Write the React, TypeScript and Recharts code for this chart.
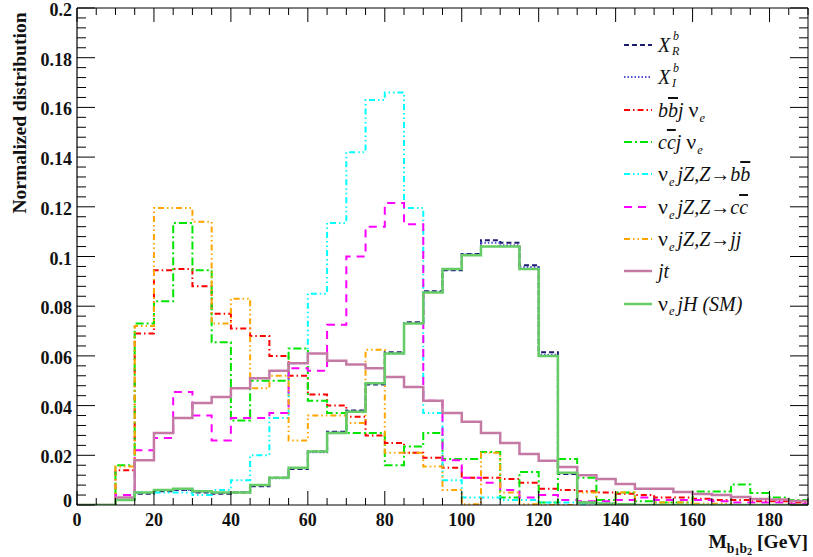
import React from 'react';
import { ComposedChart, Line, XAxis, YAxis } from 'recharts';

// bin edges in GeV (5 GeV bins)
const binEdges = [
  0, 5, 10, 15, 20, 25, 30, 35, 40, 45, 50, 55, 60, 65, 70, 75, 80, 85, 90, 95,
  100, 105, 110, 115, 120, 125, 130, 135, 140, 145, 150, 155, 160, 165, 170, 175, 180, 185, 190,
];

// one value per bin (38 bins)
const xRb = [0, 0, 0.002, 0.0045, 0.0055, 0.006, 0.005, 0.0045, 0.005, 0.0075, 0.011, 0.0145, 0.0215, 0.0295, 0.038, 0.0485, 0.0615, 0.0735, 0.086, 0.0945, 0.101, 0.1065, 0.1055, 0.0965, 0.0615, 0.0125, 0.001, 0.0005, 0.0003, 0, 0, 0, 0, 0, 0, 0, 0, 0];
const xIb = [0, 0, 0.002, 0.0048, 0.006, 0.006, 0.0052, 0.0048, 0.0052, 0.0078, 0.0108, 0.0148, 0.0212, 0.0292, 0.0378, 0.0488, 0.061, 0.0732, 0.0858, 0.0948, 0.1008, 0.1055, 0.1045, 0.0958, 0.0605, 0.0128, 0.001, 0.0005, 0.0003, 0, 0, 0, 0, 0, 0, 0, 0, 0];
const bbjv = [0, 0, 0.014, 0.069, 0.0945, 0.095, 0.088, 0.077, 0.071, 0.068, 0.06, 0.052, 0.0445, 0.04, 0.0355, 0.028, 0.025, 0.021, 0.019, 0.015, 0.011, 0.011, 0.0105, 0.009, 0.0065, 0.006, 0.0055, 0.005, 0.0045, 0.004, 0.003, 0.003, 0.0025, 0.002, 0.002, 0.0015, 0.0015, 0.001];
const ccjv = [0, 0, 0.016, 0.073, 0.082, 0.1135, 0.0945, 0.0655, 0.034, 0.05, 0.05, 0.063, 0.042, 0.037, 0.029, 0.029, 0.016, 0.0235, 0.029, 0.0185, 0.0185, 0.0213, 0.003, 0.0133, 0.001, 0.0185, 0.011, 0.002, 0.005, 0.0015, 0.001, 0.001, 0.0054, 0.0054, 0.0082, 0.0048, 0.003, 0.002];
const zbb = [0, 0, 0.002, 0.005, 0.005, 0.005, 0.004, 0.006, 0.01, 0.02, 0.035, 0.057, 0.085, 0.1135, 0.142, 0.163, 0.166, 0.1195, 0.037, 0.01, 0.003, 0.003, 0.002, 0.002, 0.001, 0.001, 0.0005, 0.0005, 0, 0, 0, 0, 0, 0, 0, 0, 0, 0];
const zcc = [0, 0, 0.004, 0.022, 0.027, 0.0455, 0.036, 0.026, 0.035, 0.035, 0.037, 0.055, 0.054, 0.0725, 0.1, 0.112, 0.1215, 0.113, 0.042, 0.018, 0.011, 0.009, 0.006, 0.003, 0.004, 0.002, 0.0015, 0.0015, 0.002, 0.003, 0.002, 0.002, 0.002, 0.0015, 0.001, 0.001, 0.001, 0.0005];
const zjj = [0, 0, 0.0155, 0.072, 0.1195, 0.1195, 0.114, 0.073, 0.083, 0.047, 0.052, 0.026, 0.036, 0.036, 0.033, 0.0625, 0.021, 0.021, 0.0155, 0.006, 0.0003, 0.021, 0.005, 0.0003, 0, 0, 0.005, 0, 0.005, 0, 0.001, 0.001, 0.0005, 0.0005, 0, 0, 0, 0];
const jt = [0, 0, 0.003, 0.018, 0.029, 0.035, 0.041, 0.0435, 0.047, 0.051, 0.054, 0.057, 0.061, 0.058, 0.0565, 0.055, 0.0515, 0.0475, 0.042, 0.037, 0.0335, 0.029, 0.025, 0.0205, 0.0178, 0.0153, 0.012, 0.0105, 0.0085, 0.0065, 0.0065, 0.0052, 0.0044, 0.004, 0.0032, 0.0024, 0.0022, 0.0016];
const smH = [0, 0, 0.002, 0.005, 0.006, 0.0065, 0.0055, 0.005, 0.005, 0.008, 0.011, 0.015, 0.0215, 0.029, 0.0375, 0.049, 0.061, 0.073, 0.0855, 0.095, 0.1005, 0.104, 0.104, 0.095, 0.06, 0.013, 0.001, 0.0005, 0.0003, 0, 0, 0, 0, 0, 0, 0, 0, 0];

const xMajorTicks = [0, 20, 40, 60, 80, 100, 120, 140, 160, 180];
const yMajorTicks = [0, 0.02, 0.04, 0.06, 0.08, 0.1, 0.12, 0.14, 0.16, 0.18, 0.2];

const series = [
  { key: 'xR', values: xRb, color: '#1c1c6e', dash: '5 3', width: 2 },
  { key: 'xI', values: xIb, color: '#4f4fd0', dash: '1.5 2', width: 2 },
  { key: 'bbjv', values: bbjv, color: '#ff0000', dash: '6 3 1.5 3', width: 2 },
  { key: 'ccjv', values: ccjv, color: '#00e600', dash: '8 3 2 3', width: 2 },
  { key: 'zbb', values: zbb, color: '#00ffff', dash: '6 3 1.5 3 1.5 3', width: 2 },
  { key: 'zcc', values: zcc, color: '#ff00ff', dash: '8 6', width: 2 },
  { key: 'zjj', values: zjj, color: '#ffa500', dash: '6 3 1.5 3 1.5 3', width: 2 },
  { key: 'jt', values: jt, color: '#c57aa5', dash: undefined, width: 2.5 },
  { key: 'smH', values: smH, color: '#66cc66', dash: undefined, width: 2.5 },
];

const data = binEdges.map((edge, i) => {
  const row: Record<string, number> = { x: edge };
  series.forEach((s) => {
    row[s.key] = s.values[Math.min(i, s.values.length - 1)];
  });
  return row;
});

// minor ticks: every 5 GeV on x, 5 subdivisions per y major
const xTicks = binEdges;
const yTicks: number[] = [];
yMajorTicks.forEach((v, i) => {
  yTicks.push(v);
  if (i < yMajorTicks.length - 1) {
    for (let k = 1; k < 5; k++) yTicks.push(Math.round((v + k * 0.004) * 1000) / 1000);
  }
});

const W = 813;
const H = 557;
const LEFT = 77;
const RIGHT = 808;
const TOP = 8;
const BOTTOM = 505;

const serif = '"Liberation Serif", "DejaVu Serif", serif';

const isYMajor = (v: number) => Math.round(v * 1000) % 20 === 0;

const XTick = (side: 'bottom' | 'top') => (props: any) => {
  const { x, y, payload } = props;
  const v = payload.value;
  const major = xMajorTicks.includes(v);
  const len = major ? 14 : 7;
  const dir = side === 'bottom' ? -1 : 1;
  return (
    <g>
      <line x1={x} y1={y} x2={x} y2={y + dir * len} stroke="#000" strokeWidth={1} />
      {side === 'bottom' && major && (
        <text x={x} y={y + 21} textAnchor="middle" fontFamily={serif} fontWeight="bold" fontSize={18} fill="#111">
          {v}
        </text>
      )}
    </g>
  );
};

const YTick = (side: 'left' | 'right') => (props: any) => {
  const { x, y, payload } = props;
  const v = payload.value;
  const major = isYMajor(v);
  const len = major ? 18 : 9;
  const dir = side === 'left' ? 1 : -1;
  return (
    <g>
      <line x1={x} y1={y} x2={x + dir * len} y2={y} stroke="#000" strokeWidth={1} />
      {side === 'left' && major && (
        <text x={x - 5} y={v === 0 ? y + 2 : y + 8} textAnchor="end" fontFamily={serif} fontWeight="bold" fontSize={18} fill="#111">
          {v === 0 ? '0' : String(Number(v.toFixed(2)))}
        </text>
      )}
    </g>
  );
};

const Sub = ({ children }: { children: React.ReactNode }) => (
  <span style={{ fontSize: '0.62em', position: 'relative', top: '0.4em', marginRight: 3 }}>{children}</span>
);

const Nu = () => <span style={{ fontStyle: 'normal', fontSize: '1.1em', marginRight: 1 }}>ν</span>;

const XSupSub = ({ sub }: { sub: string }) => (
  <span style={{ position: 'relative', display: 'inline-block', paddingRight: 10 }}>
    X
    <span style={{ position: 'absolute', left: 15, top: -4, fontSize: '0.6em', lineHeight: 1 }}>b</span>
    <span style={{ position: 'absolute', left: 14, top: 11, fontSize: '0.6em', lineHeight: 1 }}>{sub}</span>
  </span>
);

const Bar = ({ children }: { children: React.ReactNode }) => (
  <span style={{ textDecoration: 'overline' }}>{children}</span>
);

const legendItems = [
  { s: series[0], label: <XSupSub sub="R" /> },
  { s: series[1], label: <XSupSub sub="I" /> },
  { s: series[2], label: <span>b<Bar>b</Bar>j <Nu /><Sub>e</Sub></span> },
  { s: series[3], label: <span>c<Bar>c</Bar>j <Nu /><Sub>e</Sub></span> },
  { s: series[4], label: <span><Nu /><Sub>e</Sub>jZ,Z→b<Bar>b</Bar></span> },
  { s: series[5], label: <span><Nu /><Sub>e</Sub>jZ,Z→c<Bar>c</Bar></span> },
  { s: series[6], label: <span><Nu /><Sub>e</Sub>jZ,Z→jj</span> },
  { s: series[7], label: <span>jt</span> },
  { s: series[8], label: <span><Nu /><Sub>e</Sub>jH (SM)</span> },
];

export default function App() {
  return (
    <div style={{ position: 'absolute', left: 0, top: 0, width: W, height: H, background: '#fff' }}>
      <ComposedChart
        width={W}
        height={H}
        data={data}
        margin={{ top: TOP - 1, right: W - RIGHT - 1, bottom: H - BOTTOM - 1, left: LEFT - 1 }}
      >
        <XAxis
          dataKey="x"
          type="number"
          domain={[0, 190]}
          allowDataOverflow
          ticks={xTicks}
          interval={0}
          height={1}
          tickSize={0}
          tickMargin={0}
          tickLine={false}
          axisLine={{ stroke: '#000', strokeWidth: 1.2 }}
          tick={XTick('bottom')}
        />
        <XAxis
          xAxisId="top"
          orientation="top"
          dataKey="x"
          type="number"
          domain={[0, 190]}
          allowDataOverflow
          ticks={xTicks}
          interval={0}
          height={1}
          tickSize={0}
          tickMargin={0}
          tickLine={false}
          axisLine={{ stroke: '#000', strokeWidth: 1 }}
          tick={XTick('top')}
        />
        <YAxis
          type="number"
          domain={[0, 0.2]}
          allowDataOverflow
          ticks={yTicks}
          interval={0}
          width={1}
          tickSize={0}
          tickMargin={0}
          tickLine={false}
          axisLine={{ stroke: '#000', strokeWidth: 1.2 }}
          tick={YTick('left')}
        />
        <YAxis
          yAxisId="right"
          orientation="right"
          type="number"
          domain={[0, 0.2]}
          allowDataOverflow
          ticks={yTicks}
          interval={0}
          width={1}
          tickSize={0}
          tickMargin={0}
          tickLine={false}
          axisLine={{ stroke: '#000', strokeWidth: 1 }}
          tick={YTick('right')}
        />
        {series.map((s) => (
          <Line
            key={s.key}
            dataKey={s.key}
            type="stepAfter"
            stroke={s.color}
            strokeWidth={s.width}
            strokeDasharray={s.dash}
            dot={false}
            activeDot={false}
            isAnimationActive={false}
          />
        ))}
      </ComposedChart>

      {/* y axis title */}
      <div
        style={{
          position: 'absolute',
          left: 20,
          top: 113,
          transform: 'translate(-50%, -50%) rotate(-90deg)',
          whiteSpace: 'nowrap',
          fontFamily: serif,
          fontWeight: 'bold',
          fontSize: 19.5,
          color: '#111',
        }}
      >
        Normalized distribution
      </div>

      {/* x axis title */}
      <div
        style={{
          position: 'absolute',
          right: W - RIGHT,
          top: 532,
          lineHeight: 1,
          whiteSpace: 'nowrap',
          fontFamily: serif,
          fontWeight: 'bold',
          fontSize: 19.5,
          color: '#111',
        }}
      >
        M
        <span style={{ fontSize: '0.7em', position: 'relative', top: '0.35em' }}>
          b<span style={{ fontSize: '0.75em', position: 'relative', top: '0.25em' }}>1</span>
          b<span style={{ fontSize: '0.75em', position: 'relative', top: '0.25em' }}>2</span>
        </span>{' '}
        [GeV]
      </div>

      {/* legend */}
      <div style={{ position: 'absolute', left: 622, top: 29, fontFamily: serif, fontStyle: 'italic', fontSize: 20, color: '#111' }}>
        {legendItems.map((it) => (
          <div key={it.s.key} style={{ display: 'flex', alignItems: 'center', height: 32.3, whiteSpace: 'nowrap' }}>
            <svg width={32} height={10} style={{ marginRight: 4 }}>
              <line x1={2} y1={5} x2={30} y2={5} stroke={it.s.color} strokeWidth={it.s.width} strokeDasharray={it.s.dash} />
            </svg>
            {it.label}
          </div>
        ))}
      </div>
    </div>
  );
}
